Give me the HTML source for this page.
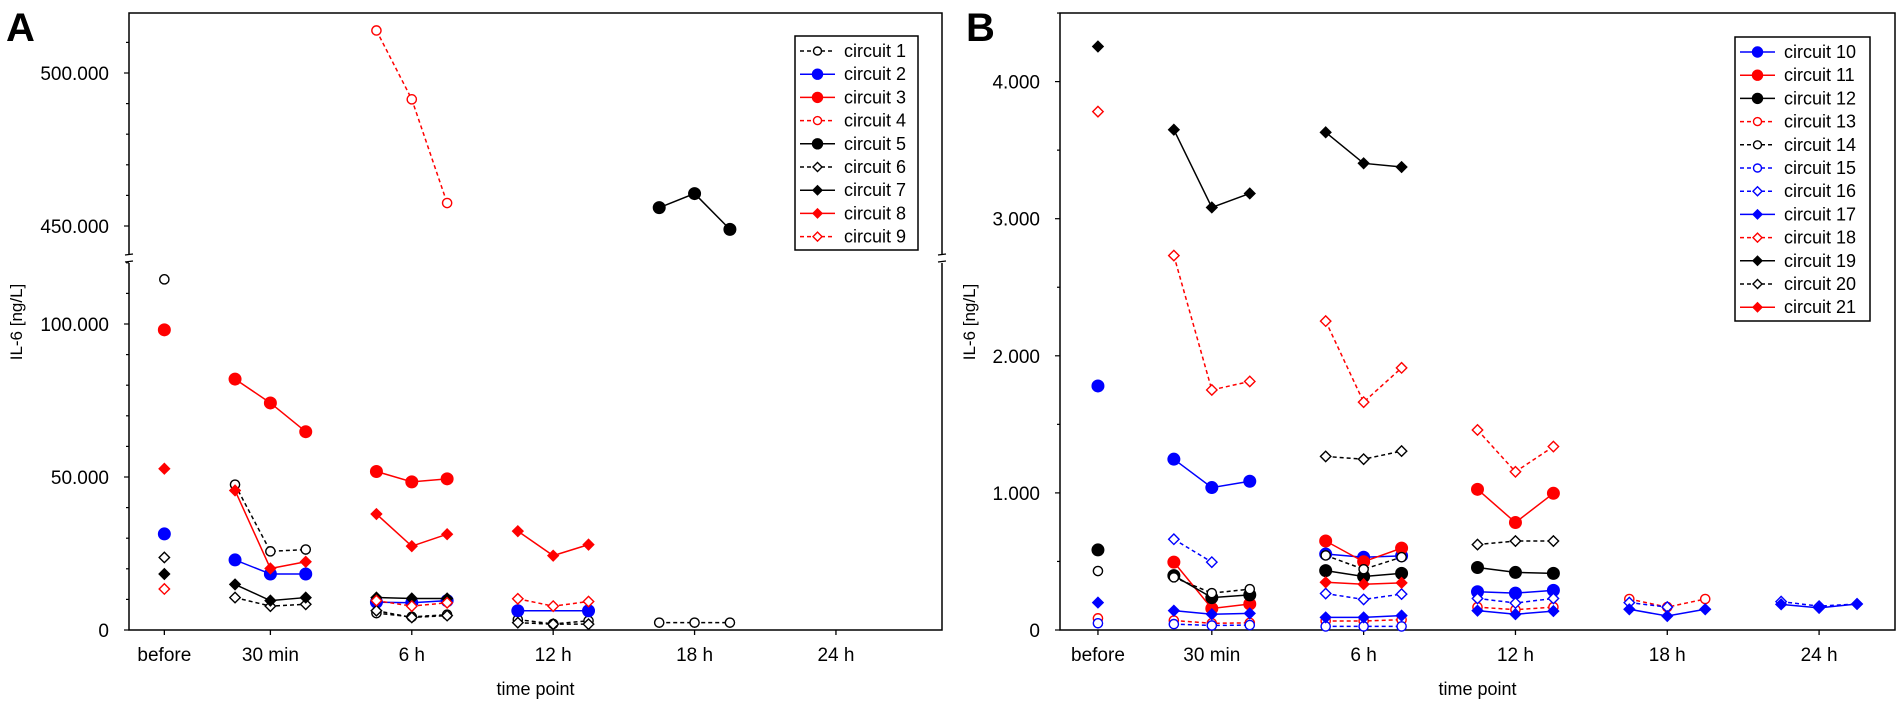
<!DOCTYPE html>
<html><head><meta charset="utf-8">
<style>
html,body{margin:0;padding:0;background:#fff;}
svg{display:block;font-family:"Liberation Sans",Arial,sans-serif;}
</style></head>
<body>
<svg id="chart" width="1902" height="706" viewBox="0 0 1902 706" xmlns="http://www.w3.org/2000/svg"></svg>
<script>
// ---- data ----
const categories = ["before","30 min","6 h","12 h","18 h","24 h"];
const seriesNamesA = ["circuit 1","circuit 2","circuit 3","circuit 4","circuit 5","circuit 6","circuit 7","circuit 8","circuit 9"];
// each series: [before, 30min x3, 6h x3, 12h x3, 18h x3, 24h x3]
const c1 = [114600, 47500,25700,26300, 5500,4300,5000, 3400,2000,3000, 2400,2400,2400, null,null,null];
const c2 = [31400, 22900,18300,18300, 9100,8900,9600, 6300,null,6300, null,null,null, null,null,null];
const c3 = [98100, 82000,74200,64800, 51800,48400,49400, null,null,null, null,null,null, null,null,null];
const c4 = [null, null,null,null, 513900,491400,457500, null,null,null, null,null,null, null,null,null];
const c5 = [null, null,null,null, null,null,null, null,null,null, 456000,460600,448900, null,null,null];
const c6 = [23700, 10600,7800,8400, 6300,4100,4700, 2400,1900,1900, null,null,null, null,null,null];
const c7 = [18300, 14900,9600,10600, 10600,10300,10300, null,null,null, null,null,null, null,null,null];
const c8 = [52700, 45600,20100,22300, 37900,27400,31300, 32300,24300,27900, null,null,null, null,null,null];
const c9 = [13400, null,null,null, 9600,7800,8900, 10200,7800,9300, null,null,null, null,null,null];
const seriesNamesB = ["circuit 10","circuit 11","circuit 12","circuit 13","circuit 14","circuit 15","circuit 16","circuit 17","circuit 18","circuit 19","circuit 20","circuit 21"];
const c10 = [1780, 1246,1039,1085, 554,531,541, 279,269,289, null,null,null, null,null,null];
const c11 = [null, 495,157,190, 649,498,597, 1026,784,997, null,null,null, null,null,null];
const c12 = [584, 397,236,256, 433,390,413, 456,420,413, null,null,null, null,null,null];
const c13 = [85, 69,49,52, 66,66,75, 167,148,167, 226,167,226, null,null,null];
const c14 = [430, 384,269,298, 544,443,531, null,null,null, null,null,null, null,null,null];
const c15 = [49, 43,33,36, 26,26,26, null,null,null, null,null,null, null,null,null];
const c16 = [null, 662,495,null, 266,223,262, 230,197,230, 200,167,null, 207,174,190];
const c17 = [200, 141,115,121, 92,92,105, 141,115,138, 151,102,151, 187,161,190];
const c18 = [3781, 2731,1751,1813, 2253,1662,1912, 1459,1154,1338, null,null,null, null,null,null];
const c19 = [4256, 3649,3082,3184, 3630,3404,3377, null,null,null, null,null,null, null,null,null];
const c20 = [null, null,null,null, 1266,1246,1305, 623,649,649, null,null,null, null,null,null];
const c21 = [null, null,null,null, 348,334,344, null,null,null, null,null,null, null,null,null];
const ticksA_lower = ["0","50.000","100.000"];
const ticksA_upper = ["450.000","500.000"];
const ticksB = ["0","1.000","2.000","3.000","4.000"];

const styleA = [
 ["#000","circle",false,true],["#0000ff","circle",true,false],["#ff0000","circle",true,false],
 ["#ff0000","circle",false,true],["#000","circle",true,false],["#000","diamond",false,true],
 ["#000","diamond",true,false],["#ff0000","diamond",true,false],["#ff0000","diamond",false,true]];
const styleB = [
 ["#0000ff","circle",true,false],["#ff0000","circle",true,false],["#000","circle",true,false],
 ["#ff0000","circle",false,true],["#000","circle",false,true],["#0000ff","circle",false,true],
 ["#0000ff","diamond",false,true],["#0000ff","diamond",true,false],["#ff0000","diamond",false,true],
 ["#000","diamond",true,false],["#000","diamond",false,true],["#ff0000","diamond",true,false]];
const dataA=[c1,c2,c3,c4,c5,c6,c7,c8,c9];
const dataB=[c10,c11,c12,c13,c14,c15,c16,c17,c18,c19,c20,c21];

const NS="http://www.w3.org/2000/svg";
const svg=document.getElementById('chart');
function mk(tag,attrs,parent){const e=document.createElementNS(NS,tag);for(const k in attrs)e.setAttribute(k,attrs[k]);(parent||svg).appendChild(e);return e;}
function slot(i){if(i===0)return 0;const g=Math.floor((i-1)/3),k=(i-1)%3;return 3+4*g+(k-1);}
function catSlot(c){return c===0?0:3+4*(c-1);}

function marker(g,x,y,st,small){
  const [col,shape,filled]=st;let e;
  if(shape==="circle"){
    const r=filled?(small?5:5.8):(small?4:4.6);
    e=mk('circle',{cx:x,cy:y,r:r,fill:filled?col:'#fff',stroke:col,'stroke-width':1.4},g);
  } else {
    const s=filled?(small?4.5:5.2):(small?4.5:5.2);
    e=mk('polygon',{points:`${x},${y-s} ${x+s},${y} ${x},${y+s} ${x-s},${y}`,fill:filled?col:'#fff',stroke:col,'stroke-width':1.4},g);
  }
  
  
}

function drawPanel(P){
  const xs=s=>P.x0+(s+1)*P.step;
  // frame
  const f=mk('rect',{x:P.x0,y:P.top,width:P.x1-P.x0,height:P.bottom-P.top,fill:'none',stroke:'#000','stroke-width':1.5});
  
  // x ticks/labels
  categories.forEach((c,ci)=>{
    const x=xs(catSlot(ci));
    mk('line',{x1:x,y1:P.bottom,x2:x,y2:P.bottom+5,stroke:'#000','stroke-width':1.3});
    const t=mk('text',{x:x,y:661,'font-size':19,'text-anchor':'middle'});t.textContent=c;
    
  });
  const xt=mk('text',{x:(P.x0+P.x1)/2,y:695,'font-size':18,'text-anchor':'middle'});xt.textContent='time point';
  
  const yt=mk('text',{x:0,y:0,'font-size':17,'text-anchor':'middle',transform:`translate(${P.ytx},322) rotate(-90)`});yt.textContent='IL-6 [ng/L]';
  
  const lt=mk('text',{x:P.letterX,y:41,'font-size':40,'font-weight':'bold'});lt.textContent=P.letter;
  
  P.yticks();
  // series
  P.data.forEach((arr,si)=>{
    const st=P.styles[si];
    const g=mk('g',{});
    
    
    for(let grp=0;grp<5;grp++){
      const pts=[];
      for(let k=0;k<3;k++){const i=1+grp*3+k;if(arr[i]!=null)pts.push([xs(slot(i)),P.y(arr[i])]);}
      if(pts.length>1){
        const pl=mk('polyline',{points:pts.map(p=>p.join(',')).join(' '),fill:'none',stroke:st[0],'stroke-width':1.5,'stroke-dasharray':st[3]?'4,3':'none'},g);
        
      }
    }
    arr.forEach((v,i)=>{if(v!=null)marker(g,xs(slot(i)),P.y(v),st,false);});
  });
  // legend
  const lg=mk('g',{});
  
  const L=P.legend;
  mk('rect',{x:L.x,y:L.y,width:L.w,height:L.h,fill:'#fff',stroke:'#000','stroke-width':1.5},lg);
  P.names.forEach((n,i)=>{
    const y=L.y+15+i*23.2;const st=P.styles[i];
    const e=mk('g',{},lg);
    
    mk('line',{x1:L.x+5,y1:y,x2:L.x+40,y2:y,stroke:st[0],'stroke-width':1.5,'stroke-dasharray':st[3]?'4,3':'none'},e);
    marker(e,L.x+22.5,y,st,true);
    const t=mk('text',{x:L.x+L.tx,y:y+6,'font-size':18},e);t.textContent=n;
  });
}

// Panel A
const A={id:'panel-a',letter:'A',letterX:6,x0:129,x1:942,top:13,bottom:630,step:(942-129)/24,
  ytx:22,data:dataA,styles:styleA,names:seriesNamesA,
  legend:{x:795,y:36,w:123,h:214,tx:49},
  y:v=> v>=440000 ? 73-(v-500000)/50000*153 : 630-v/50000*153,
  yticks:function(){
    const brk=259;
    // break gap
    mk('rect',{x:124,y:brk-5,width:10,height:9,fill:'#fff'});
    mk('rect',{x:937,y:brk-5,width:10,height:9,fill:'#fff'});
    [[125,133],[938,946]].forEach(([a,b])=>{mk('line',{x1:a,y1:brk-4,x2:b,y2:brk-5,stroke:'#000','stroke-width':1.3});mk('line',{x1:a,y1:brk+3,x2:b,y2:brk+2,stroke:'#000','stroke-width':1.3});});
    for(let v=0;v<=120000;v+=10000){const y=630-v/50000*153;const maj=v%50000===0;
      mk('line',{x1:maj?124:126,y1:y,x2:129,y2:y,stroke:'#000','stroke-width':1.2});}
    for(let v=450000;v<=510000;v+=10000){const y=73-(v-500000)/50000*153;const maj=v%50000===0;
      mk('line',{x1:maj?124:126,y1:y,x2:129,y2:y,stroke:'#000','stroke-width':1.2});}
    ticksA_lower.forEach((s,i)=>{const t=mk('text',{x:109,y:630-i*153+7,'font-size':19,'text-anchor':'end'});t.textContent=s;
      });
    ticksA_upper.forEach((s,i)=>{const t=mk('text',{x:109,y:226-i*153+7,'font-size':19,'text-anchor':'end'});t.textContent=s;
      });
  }};
A.step=(942-129)/23;
drawPanel(A);

// Panel B
const B={id:'panel-b',letter:'B',letterX:966,x0:1060,x1:1895,top:13,bottom:630,step:(1895-1060)/22,
  ytx:975,data:dataB,styles:styleB,names:seriesNamesB,
  legend:{x:1735,y:37,w:135,h:284,tx:49},
  y:v=>630-v/1000*137.1,
  yticks:function(){
    for(let v=0;v<=4500;v+=500){const y=630-v/1000*137.1;const maj=v%1000===0;
      mk('line',{x1:maj?1055:1057,y1:y,x2:1060,y2:y,stroke:'#000','stroke-width':1.2});}
    ticksB.forEach((s,i)=>{const t=mk('text',{x:1040,y:630-i*137.1+7,'font-size':19,'text-anchor':'end'});t.textContent=s;
      });
  }};
drawPanel(B);
</script>
</body></html>
